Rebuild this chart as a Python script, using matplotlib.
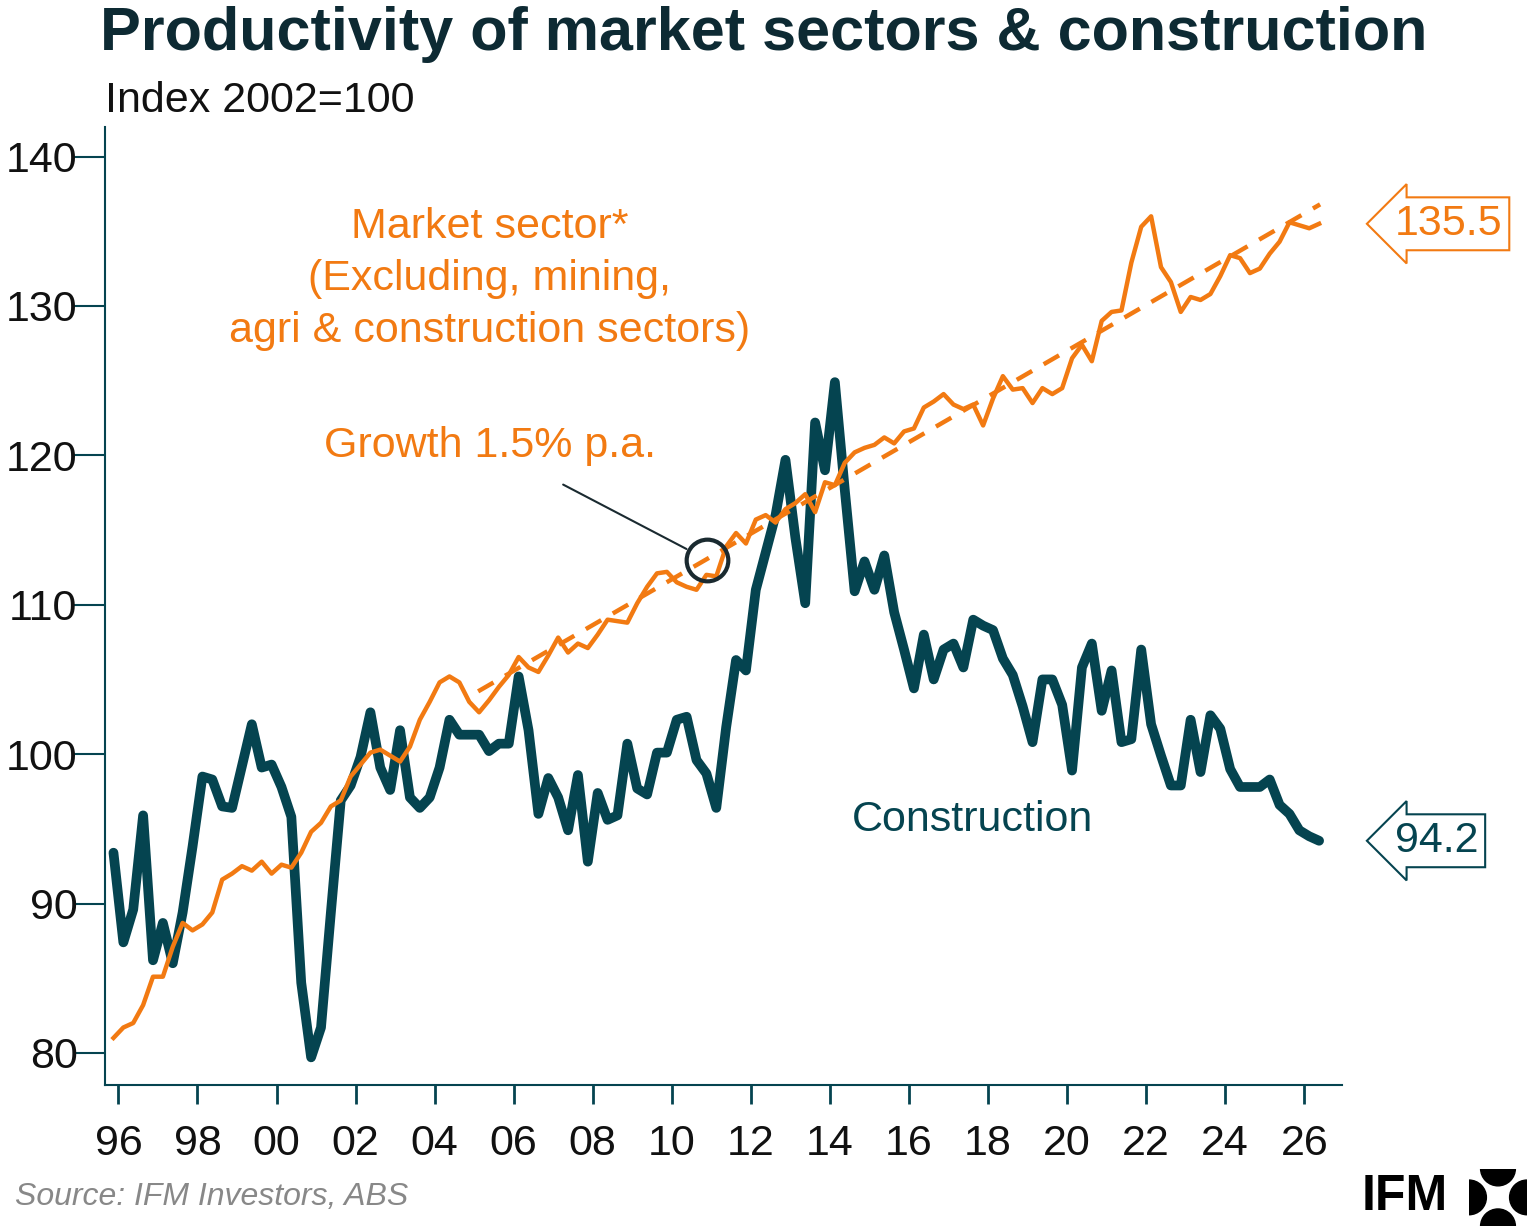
import matplotlib
matplotlib.use('Agg')
import matplotlib.pyplot as plt
from matplotlib.patches import Wedge
import numpy as np

plt.rcParams['font.family'] = ['Liberation Sans', 'DejaVu Sans']

# quarterly data, first point at 1995.875
start_year = 1995.875
construction = [93.4, 87.4, 89.6, 95.9, 86.2, 88.7, 86.0, 89.4, 93.8, 98.5,
                98.3, 96.5, 96.4, 99.2, 102.0, 99.1, 99.3, 97.8, 95.8, 84.7,
                79.7, 81.7, 89.4, 96.9, 97.9, 99.8, 102.8, 99.1, 97.6, 101.6,
                97.1, 96.4, 97.1, 99.1, 102.3, 101.3, 101.3, 101.3, 100.2, 100.7,
                100.7, 105.2, 101.6, 96.0, 98.4, 97.1, 94.9, 98.6, 92.8, 97.4,
                95.6, 95.9, 100.7, 97.7, 97.3, 100.1, 100.1, 102.3, 102.5, 99.6,
                98.7, 96.4, 101.8, 106.3, 105.6, 111.0, 113.5, 116.0, 119.7, 114.5,
                110.1, 122.2, 119.0, 124.9, 117.7, 110.9, 112.9, 111.0, 113.3, 109.5,
                107.0, 104.4, 108.0, 105.0, 107.0, 107.4, 105.8, 109.0, 108.6, 108.3,
                106.4, 105.3, 103.2, 100.8, 105.0, 105.0, 103.3, 98.9, 105.8, 107.4,
                102.9, 105.6, 100.8, 101.0, 107.0, 102.0, 99.9, 97.9, 97.9, 102.3,
                98.8, 102.6, 101.7, 99.0, 97.8, 97.8, 97.8, 98.3, 96.6, 96.0,
                94.9, 94.5, 94.2]
market = [81.0, 81.7, 82.0, 83.2, 85.1, 85.1, 87.1, 88.7, 88.2, 88.6,
          89.4, 91.6, 92.0, 92.5, 92.2, 92.8, 92.0, 92.6, 92.4, 93.4,
          94.8, 95.4, 96.5, 96.9, 98.5, 99.3, 100.1, 100.3, 99.9, 99.5,
          100.5, 102.3, 103.5, 104.8, 105.2, 104.8, 103.5, 102.8, 103.6, 104.5,
          105.3, 106.5, 105.8, 105.5, 106.6, 107.8, 106.8, 107.4, 107.1, 108.0,
          109.0, 108.9, 108.8, 110.1, 111.2, 112.1, 112.2, 111.5, 111.2, 111.0,
          112.0, 111.9, 113.9, 114.8, 114.1, 115.7, 116.0, 115.5, 116.4, 116.8,
          117.4, 116.2, 118.2, 118.0, 119.5, 120.2, 120.5, 120.7, 121.2, 120.8,
          121.6, 121.8, 123.2, 123.6, 124.1, 123.4, 123.1, 123.4, 122.0, 123.8,
          125.3, 124.4, 124.5, 123.5, 124.5, 124.1, 124.5, 126.5, 127.4, 126.3,
          129.0, 129.6, 129.7, 132.9, 135.3, 136.0, 132.6, 131.6, 129.6, 130.6,
          130.4, 130.8, 132.0, 133.4, 133.2, 132.2, 132.5, 133.5, 134.3, 135.6,
          135.4, 135.2, 135.5]
trend_years = [2005.1, 2026.4]
trend_values = [104.2, 136.8]
tick_years = list(range(1996, 2027, 2))
tick_labels = ['%02d' % (y % 100) for y in tick_years]

NAVY = '#054450'
ORANGE = '#F27A12'

years_c = start_year + 0.25 * np.arange(len(construction))
years_m = start_year + 0.25 * np.arange(len(market))

fig = plt.figure(figsize=(15.27, 12.3), dpi=100)
ax = fig.add_axes([0.069, 0.118, 0.81, 0.779])

ax.plot(years_c, construction, color=NAVY, lw=7, solid_joinstyle='round',
        solid_capstyle='round')
ax.plot(years_m, market, color=ORANGE, lw=3.2, solid_joinstyle='round')
ax.plot(trend_years, trend_values, color=ORANGE, lw=3.2, ls=(0, (4, 3)))

ax.set_xlim(1995.67, 2026.96)
ax.set_ylim(77.86, 142.0)
ax.set_xticks(tick_years)
ax.set_xticklabels(tick_labels)
ax.set_yticks(range(80, 141, 10))
for s in ['top', 'right']:
    ax.spines[s].set_visible(False)
for s in ['left', 'bottom']:
    ax.spines[s].set_color(NAVY)
    ax.spines[s].set_linewidth(1.5)
ax.tick_params(axis='x', direction='out', length=14, width=2, colors=NAVY,
               labelsize=31, labelcolor='#111111', pad=14)
ax.tick_params(axis='y', direction='out', length=22, width=1.5, colors=NAVY,
               labelsize=31, labelcolor='#111111', pad=-2)

# labels
ax.text(2005.4, 131.8, 'Market sector*\n(Excluding, mining,\nagri & construction sectors)',
        color=ORANGE, fontsize=31, ha='center', va='center', linespacing=1.4)
ax.text(2017.6, 95.6, 'Construction', color=NAVY, fontsize=31, ha='center', va='center')

# growth annotation
ax.plot([2010.9], [113.0], marker='o', ms=30, mfc='none', mec='#1a2a30', mew=3)
ax.annotate('Growth 1.5% p.a.', xy=(2010.9, 113.0), xytext=(2005.4, 120.6),
            color=ORANGE, fontsize=31, ha='center', va='center',
            arrowprops=dict(arrowstyle='-', color='#1a2a30', lw=1.5,
                            shrinkA=24, shrinkB=17))

# end value labels
for val, col, y in [(market[-1], ORANGE, 135.5), (construction[-1], NAVY, 94.2)]:
    ax.annotate('%.1f' % val, xy=(2027.1, y), xycoords='data', annotation_clip=False,
                fontsize=31, color=col, ha='left', va='center',
                xytext=(2028.3, y),
                bbox=dict(boxstyle='larrow,pad=0.15', fc='white', ec=col, lw=1.5))

fig.text(0.5, 0.972, 'Productivity of market sectors & construction', ha='center',
         va='center', fontsize=44, fontweight='bold', color='#0d2a33')
fig.text(0.069, 0.918, 'Index 2002=100', ha='left', va='center', fontsize=31, color='#111111')
fig.text(0.01, 0.027, 'Source: IFM Investors, ABS', ha='left', va='center',
         fontsize=23, style='italic', color='#888888')
fig.text(0.892, 0.027, 'IFM', ha='left', va='center', fontsize=36,
         fontweight='bold', color='black')

# logo mark
lax = fig.add_axes([0.962, 0.003, 0.038, 0.047])
lax.set_xlim(0, 1)
lax.set_ylim(0, 1)
lax.axis('off')
for c, t1, t2 in [((0.5, 1.0), 180, 360), ((0.5, 0.0), 0, 180),
                  ((0.0, 0.5), 270, 90), ((1.0, 0.5), 90, 270)]:
    lax.add_patch(Wedge(c, 0.3, t1, t2, color='black'))

fig.savefig('out.png', dpi=100)
